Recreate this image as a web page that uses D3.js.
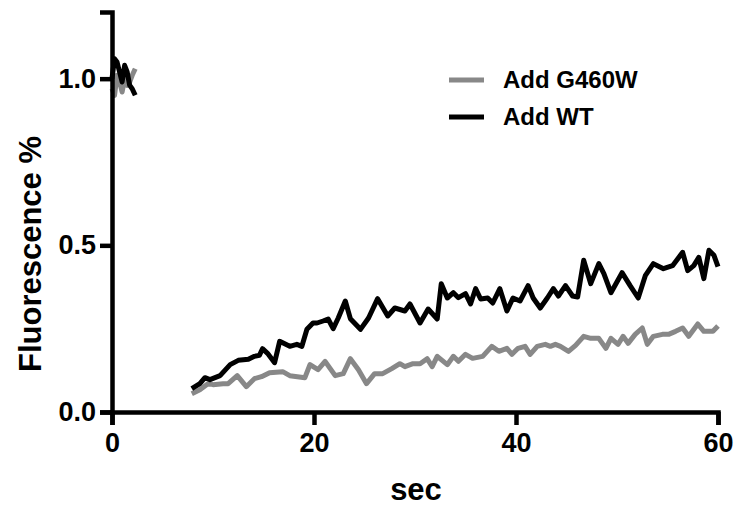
<!DOCTYPE html>
<html>
<head>
<meta charset="utf-8">
<script src="https://cdn.jsdelivr.net/npm/d3@7"></script>
<style>
  body { margin: 0; background: #fff; }
  text { font-family: "Liberation Sans", Arial, sans-serif; font-weight: bold; }
</style>
</head>
<body>
<svg id="chart" width="735" height="507"></svg>
<script>
// time (sec) and fluorescence values, null = gap between segments
const wtTime = [0, 0.25, 0.5, 0.75, 1.0, 1.25, 1.5, 1.75, 2.0, 2.3, null,
  7.9, 8.7, 9.2, 9.7, 10.7, 11.7, 12.5, 13.5, 14.1, 14.6, 14.9, 15.4, 16.1, 16.6, 17.6, 18.3, 18.8, 19.3, 19.9,
  20.3, 20.9, 21.4, 21.9, 22.4, 23.1, 23.6, 24.6, 25.4, 26.3, 27.3, 28.0, 29.0, 29.5, 30.5, 31.3, 32.2, 32.6,
  33.2, 33.8, 34.3, 35.0, 35.5, 36.0, 36.5, 37.2, 37.7, 38.4, 39.1, 39.7, 40.4, 41.2, 41.7, 42.4, 43.1, 43.7,
  44.2, 44.9, 45.6, 46.1, 46.7, 47.4, 48.2, 48.7, 49.4, 50.5, 51.3, 52.1, 52.8, 53.6, 54.6, 55.5, 56.5, 57.0,
  57.6, 58.1, 58.6, 59.1, 59.6, 60.0];
const wtValues = [1.0, 1.06, 1.05, 1.02, 0.99, 1.04, 1.02, 0.98, 0.97, 0.95, null,
  0.07, 0.085, 0.103, 0.097, 0.109, 0.142, 0.155, 0.158, 0.167, 0.17, 0.19, 0.176, 0.148, 0.212, 0.197, 0.203, 0.197, 0.248, 0.267,
  0.267, 0.273, 0.279, 0.25, 0.282, 0.333, 0.28, 0.248, 0.282, 0.34, 0.288, 0.312, 0.303, 0.324, 0.267, 0.309, 0.279, 0.385,
  0.342, 0.358, 0.343, 0.355, 0.324, 0.37, 0.339, 0.342, 0.327, 0.37, 0.303, 0.342, 0.333, 0.379, 0.342, 0.312, 0.342, 0.37,
  0.348, 0.379, 0.348, 0.345, 0.455, 0.385, 0.445, 0.415, 0.358, 0.418, 0.379, 0.342, 0.409, 0.445, 0.43, 0.439, 0.479, 0.424,
  0.439, 0.464, 0.4, 0.485, 0.47, 0.436];

const mutTime = [0, 0.25, 0.5, 0.75, 1.0, 1.25, 1.5, 1.75, 2.0, 2.3, null,
  7.9, 8.7, 9.5, 10.0, 11.0, 11.5, 12.4, 13.3, 14.1, 14.8, 15.6, 16.9, 17.6, 19.1, 19.6, 20.4, 21.1, 22.1, 22.9,
  23.6, 24.4, 25.2, 26.0, 26.8, 27.7, 28.5, 29.0, 29.8, 30.5, 31.2, 31.7, 32.2, 33.2, 33.8, 34.3, 35.0, 35.7,
  36.7, 37.6, 38.3, 39.1, 39.6, 40.2, 40.9, 41.4, 42.1, 42.9, 43.4, 43.9, 44.4, 45.2, 45.9, 46.7, 47.4, 48.2,
  48.9, 49.4, 50.1, 50.6, 51.1, 51.8, 52.5, 53.0, 53.6, 54.5, 55.1, 55.8, 56.5, 57.1, 58.0, 58.6, 59.5, 60.0];
const mutValues = [0.97, 0.95, 1.01, 0.99, 0.96, 1.0, 0.98, 0.99, 1.01, 1.03, null,
  0.055, 0.067, 0.085, 0.082, 0.085, 0.085, 0.109, 0.076, 0.1, 0.106, 0.118, 0.121, 0.109, 0.103, 0.142, 0.127, 0.152, 0.109, 0.115,
  0.16, 0.127, 0.085, 0.115, 0.115, 0.13, 0.145, 0.136, 0.145, 0.145, 0.16, 0.136, 0.167, 0.142, 0.167, 0.152, 0.173, 0.161,
  0.167, 0.197, 0.182, 0.191, 0.173, 0.191, 0.197, 0.173, 0.197, 0.203, 0.197, 0.203, 0.197, 0.182, 0.2, 0.227, 0.221, 0.221,
  0.191, 0.221, 0.203, 0.227, 0.206, 0.233, 0.252, 0.203, 0.227, 0.233, 0.233, 0.242, 0.252, 0.227, 0.264, 0.242, 0.242, 0.258];

const xTicks = [0, 20, 40, 60];
const yTicks = [0, 0.5, 1.0];

const series = [
  { name: "Add G460W", color: "#888888", time: mutTime, values: mutValues },
  { name: "Add WT", color: "#000000", time: wtTime, values: wtValues }
];

const svg = d3.select("#chart");

const x = d3.scaleLinear().domain([0, 60]).range([112, 718]);
const y = d3.scaleLinear().domain([0, 1.2]).range([412, 12]);

// lines
const line = d3.line()
  .defined(d => d[1] !== null)
  .x(d => x(d[0]))
  .y(d => y(d[1]));

series.forEach(s => {
  const pts = s.time.map((t, i) => [t, s.values[i]]);
  svg.append("path")
    .datum(pts)
    .attr("fill", "none")
    .attr("stroke", s.color)
    .attr("stroke-width", 5)
    .attr("stroke-linejoin", "round")
    .attr("d", line);
});

// axes
const xAxis = svg.append("g")
  .attr("transform", `translate(0,${y(0)})`)
  .call(d3.axisBottom(x).tickValues(xTicks).tickSizeOuter(0).tickSize(13).tickPadding(8)
    .tickFormat(d3.format("d")));

const yAxis = svg.append("g")
  .attr("transform", `translate(${x(0)},0)`)
  .call(d3.axisLeft(y).tickValues(yTicks).tickSizeOuter(0).tickSize(12).tickPadding(4)
    .tickFormat(d3.format(".1f")));

[xAxis, yAxis].forEach(g => {
  g.select(".domain").attr("stroke", "#000").attr("stroke-width", 4.5);
  g.selectAll(".tick line").attr("stroke", "#000").attr("stroke-width", 4.5);
  g.selectAll(".tick text")
    .attr("fill", "#000")
    .style("font-size", "27px")
    .style("font-family", "'Liberation Sans', Arial, sans-serif")
    .style("font-weight", "bold");
});

// axis labels
svg.append("text")
  .attr("x", 416)
  .attr("y", 500)
  .attr("text-anchor", "middle")
  .style("font-size", "31px")
  .text("sec");

svg.append("text")
  .attr("transform", "rotate(-90)")
  .attr("x", -254)
  .attr("y", 41)
  .attr("text-anchor", "middle")
  .style("font-size", "31px")
  .text("Fluorescence %");

// legend
const legend = svg.append("g");
series.forEach((s, i) => {
  const ly = 80 + i * 37;
  legend.append("line")
    .attr("x1", 449).attr("x2", 484)
    .attr("y1", ly).attr("y2", ly)
    .attr("stroke", s.color)
    .attr("stroke-width", 5);
  legend.append("text")
    .attr("x", 503)
    .attr("y", ly + 8)
    .style("font-size", "24px")
    .text(s.name);
});
</script>
</body>
</html>
